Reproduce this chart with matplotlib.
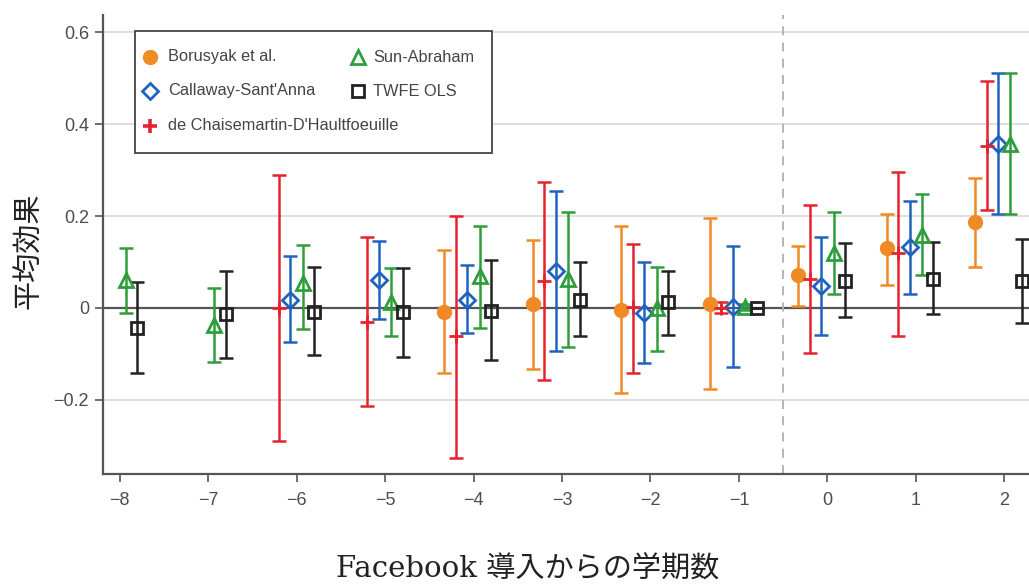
import numpy as np
import matplotlib
matplotlib.use("Agg")
import matplotlib.pyplot as plt
from matplotlib.lines import Line2D
from matplotlib.patches import Rectangle

nan = np.nan

# 導入からの学期 (event time)
periods = np.array([-8, -7, -6, -5, -4, -3, -2, -1, 0, 1, 2])

# 推定値と95%信頼区間（下限・上限）
borusyak_est = [nan, nan, nan, nan, -0.008, 0.008, -0.004, 0.009, 0.072, 0.130, 0.188]
borusyak_lo = [nan, nan, nan, nan, -0.141, -0.133, -0.186, -0.176, 0.004, 0.051, 0.090]
borusyak_hi = [nan, nan, nan, nan, 0.126, 0.148, 0.178, 0.195, 0.135, 0.204, 0.283]

dcdh_est = [nan, nan, 0.000, -0.030, -0.062, 0.059, 0.001, 0.000, 0.062, 0.119, 0.353]
dcdh_lo = [nan, nan, -0.289, -0.213, -0.327, -0.157, -0.141, -0.012, -0.099, -0.062, 0.213]
dcdh_hi = [nan, nan, 0.290, 0.154, 0.200, 0.273, 0.139, 0.012, 0.224, 0.295, 0.493]

callaway_est = [nan, nan, 0.017, 0.061, 0.017, 0.080, -0.012, 0.003, 0.048, 0.132, 0.357]
callaway_lo = [nan, nan, -0.075, -0.024, -0.055, -0.093, -0.119, -0.129, -0.059, 0.030, 0.204]
callaway_hi = [nan, nan, 0.113, 0.145, 0.093, 0.254, 0.101, 0.135, 0.154, 0.233, 0.512]

sun_est = [0.061, -0.038, 0.054, 0.014, 0.070, 0.064, -0.001, 0.002, 0.120, 0.159, 0.357]
sun_lo = [-0.011, -0.118, -0.046, -0.061, -0.043, -0.084, -0.093, -0.004, 0.030, 0.072, 0.204]
sun_hi = [0.131, 0.044, 0.138, 0.087, 0.178, 0.208, 0.090, 0.008, 0.208, 0.249, 0.512]

twfe_est = [-0.043, -0.013, -0.008, -0.008, -0.007, 0.017, 0.012, 0.000, 0.059, 0.064, 0.059]
twfe_lo = [-0.141, -0.109, -0.102, -0.106, -0.113, -0.062, -0.059, 0.000, -0.020, -0.014, -0.032]
twfe_hi = [0.056, 0.081, 0.090, 0.087, 0.104, 0.099, 0.080, 0.000, 0.141, 0.143, 0.150]

series = [
    # label, est, lo, hi, offset, color, marker, size, filled
    ("Borusyak et al.", borusyak_est, borusyak_lo, borusyak_hi, -0.33, "#f08a24", "o", 9, True),
    ("Callaway-Sant'Anna", callaway_est, callaway_lo, callaway_hi, -0.07, "#1f63c0", "D", 8, False),
    ("de Chaisemartin-D'Haultfoeuille", dcdh_est, dcdh_lo, dcdh_hi, -0.20, "#e5232e", "+", 10, True),
    ("Sun-Abraham", sun_est, sun_lo, sun_hi, 0.07, "#2e9e3c", "^", 10, False),
    ("TWFE OLS", twfe_est, twfe_lo, twfe_hi, 0.20, "#222222", "s", 9, False),
]

# 凡例の並び（列, 行）
legend_slots = [(0, 0), (0, 1), (0, 2), (1, 0), (1, 1)]

plt.rcParams["font.family"] = ["Liberation Sans", "Noto Sans CJK JP"]

W, H = 1029, 585
fig = plt.figure(figsize=(W / 100, H / 100), dpi=100)
ax = fig.add_axes([0.100, 0.190, 0.900, 0.784])

ax.set_xlim(-8.19, 2.28)
ax.set_ylim(-0.361, 0.637)

# 横グリッドと0の基準線
for yv in [-0.2, 0.2, 0.4, 0.6]:
    ax.axhline(yv, color="#dcdcdc", lw=1.3, zorder=0)
ax.axhline(0, color="#555555", lw=1.6, zorder=1)
ax.axvline(-0.5, color="#b0b0b0", lw=1.3, ls=(0, (5, 4)), zorder=1)


def px(x, y):
    return x / W, 1 - y / H


# 凡例の枠
x0, y0 = px(135, 153)
x1, y1 = px(492, 31)
fig.patches.append(Rectangle((x0, y0), x1 - x0, y1 - y0, transform=fig.transFigure,
                             facecolor="white", edgecolor="#444444", lw=1.3, zorder=5))

col_marker = [150, 358]
col_text = [168, 373]
row_y = [57, 91, 126]

for (label, est, lo, hi, off, color, marker, ms, filled), (c, r) in zip(series, legend_slots):
    est = np.array(est)
    lo = np.array(lo)
    hi = np.array(hi)
    ok = ~np.isnan(est)
    x = periods[ok] + off
    yerr = [est[ok] - lo[ok], hi[ok] - est[ok]]
    ax.errorbar(x, est[ok], yerr=yerr, fmt="none", ecolor=color,
                elinewidth=1.8, capsize=5, capthick=1.8, zorder=2)
    face = color if filled else "none"
    ax.plot(x, est[ok], ls="none", marker=marker, ms=ms, mfc=face, mec=color,
            mew=2.0, zorder=3)

    mx, my = px(col_marker[c], row_y[r])
    tx, _ = px(col_text[c], row_y[r])
    fig.add_artist(Line2D([mx], [my], transform=fig.transFigure, ls="none",
                          marker=marker, ms=ms, mfc=face, mec=color,
                          mew=2.6 if marker == "+" else 2.0, zorder=6))
    fig.text(tx, my, label, ha="left", va="center", fontsize=11.8,
             color="#444444", zorder=6)

ax.set_xticks(periods)
ax.set_xticklabels([f"\u2212{-p}" if p < 0 else str(p) for p in periods])
ax.set_yticks([-0.2, 0, 0.2, 0.4, 0.6])
ax.set_yticklabels(["\u22120.2", "0", "0.2", "0.4", "0.6"])
ax.tick_params(axis="both", direction="out", length=6, width=1.2,
               color="#555555", labelcolor="#4a4d55", labelsize=13)
ax.tick_params(axis="x", pad=7)
ax.tick_params(axis="y", pad=4)

for side in ["top", "right"]:
    ax.spines[side].set_visible(False)
for side in ["left", "bottom"]:
    ax.spines[side].set_color("#555555")
    ax.spines[side].set_linewidth(1.6)

fig.text(*px(29, 251), "平均効果", rotation=90, ha="center", va="center",
         fontsize=21, family=["Noto Sans CJK JP"], color="#222222")
fig.text(*px(528, 570), "Facebook 導入からの学期数", ha="center", va="center",
         fontsize=21, family=["DejaVu Serif", "Noto Sans CJK JP"], color="#222222")

fig.savefig("out.png", dpi=100)
